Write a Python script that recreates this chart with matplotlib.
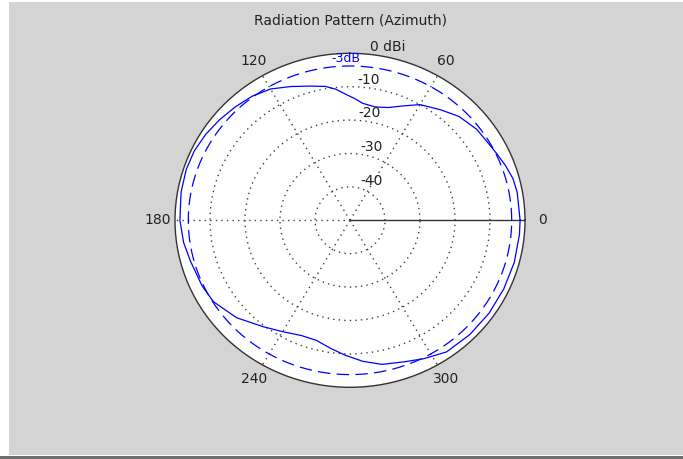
import numpy as np
import matplotlib.pyplot as plt
from matplotlib.patches import Rectangle

# azimuth pattern (degrees, dBi)
az_deg = [0, 10, 15, 20, 25, 30, 37, 45, 52, 60, 66, 72, 78, 84, 88, 92, 96, 100,
          106, 113, 120, 127, 134, 141, 148, 155, 162, 170, 180, 188, 195, 205, 212,
          222, 232, 240, 248, 255, 262, 268, 275, 282, 290, 297, 305, 315, 325, 335,
          345, 355, 360]
gain_dbi = [-1.4, -1.5, -1.8, -2.6, -3.5, -4.2, -4.7, -6.0, -8.0, -10.0, -12.5, -14.5,
            -15.3, -14.8, -13.5, -12.2, -10.5, -9.3, -8.2, -6.5, -4.6, -3.5, -2.8, -2.1,
            -1.4, -0.9, -0.8, -1.0, -1.4, -2.0, -2.8, -3.4, -4.0, -6.4, -9.6, -11.5,
            -12.8, -12.8, -11.2, -9.6, -7.6, -5.9, -4.9, -3.5, -1.9, -1.6, -1.5, -1.5,
            -1.4, -1.4, -1.4]

ring_db = [-40, -30, -20, -10, 0]
ring_labels = ['-40', '-30', '-20', '-10', '0 dBi']
ring_label_ang = [73, 81.8, 85.6, 87.1, 83.4]
spoke_deg = [60, 120, 180, 240, 300]
angle_labels = [0, 60, 120, 180, 240, 300]
r_min, r_max = -50, 0

fig = plt.figure(figsize=(6.83, 4.59), dpi=100, facecolor='white')
W, H = 683.0, 459.0
# grey window background + bottom bar
fig.patches.append(Rectangle((9 / W, 4 / H), 1, 453 / H, transform=fig.transFigure,
                             facecolor='#d4d4d4', edgecolor='none', zorder=-2))
fig.patches.append(Rectangle((0, 0), 1, 3 / H, transform=fig.transFigure,
                             facecolor='#6e6e6e', edgecolor='none', zorder=-1))

ax = fig.add_axes([175 / W, 71.7 / H, 350 / W, 334 / H], projection='polar')
ax.set_aspect('auto')
ax.set_facecolor('white')
ax.set_ylim(r_min, r_max)

ax.set_thetagrids(spoke_deg, labels=[])
ax.set_rgrids(ring_db[:-1], labels=[])
ax.grid(True, color='#404040', linestyle=(0, (1, 3)), linewidth=1.0)
ax.spines['polar'].set_color('#333333')
ax.spines['polar'].set_linewidth(1.0)
ax.tick_params(length=0)

# solid 0 deg spoke
ax.plot([0, 0], [r_min, r_max], color='#333333', lw=1.0)

th = np.deg2rad(az_deg)
ax.plot(th, gain_dbi, color='blue', lw=0.9)

# -3 dB circle relative to the peak
level = max(gain_dbi) - 3
circ = np.linspace(0, 2 * np.pi, 361)
ax.plot(circ, np.full_like(circ, level), color='blue', lw=0.9, dashes=[10, 5])
ax.text(np.deg2rad(91.3), -1.5, '-3dB', color='blue', fontsize=9,
        ha='center', va='center')

# ring labels
for rv, lab, ang in zip(ring_db, ring_labels, ring_label_ang):
    ax.text(np.deg2rad(ang), rv, lab, fontsize=10, color='#222222',
            ha='left', va='bottom', clip_on=False)

# angle labels outside the circle
for a in angle_labels:
    ax.text(np.deg2rad(a), r_min + 1.1 * (r_max - r_min), str(a), fontsize=10,
            color='#222222', ha='center', va='center', clip_on=False)

fig.text(350 / W, 1 - 20 / H, 'Radiation Pattern (Azimuth)', fontsize=10,
         color='#222222', ha='center', va='center')

fig.savefig('out.png', dpi=100, facecolor=fig.get_facecolor())
